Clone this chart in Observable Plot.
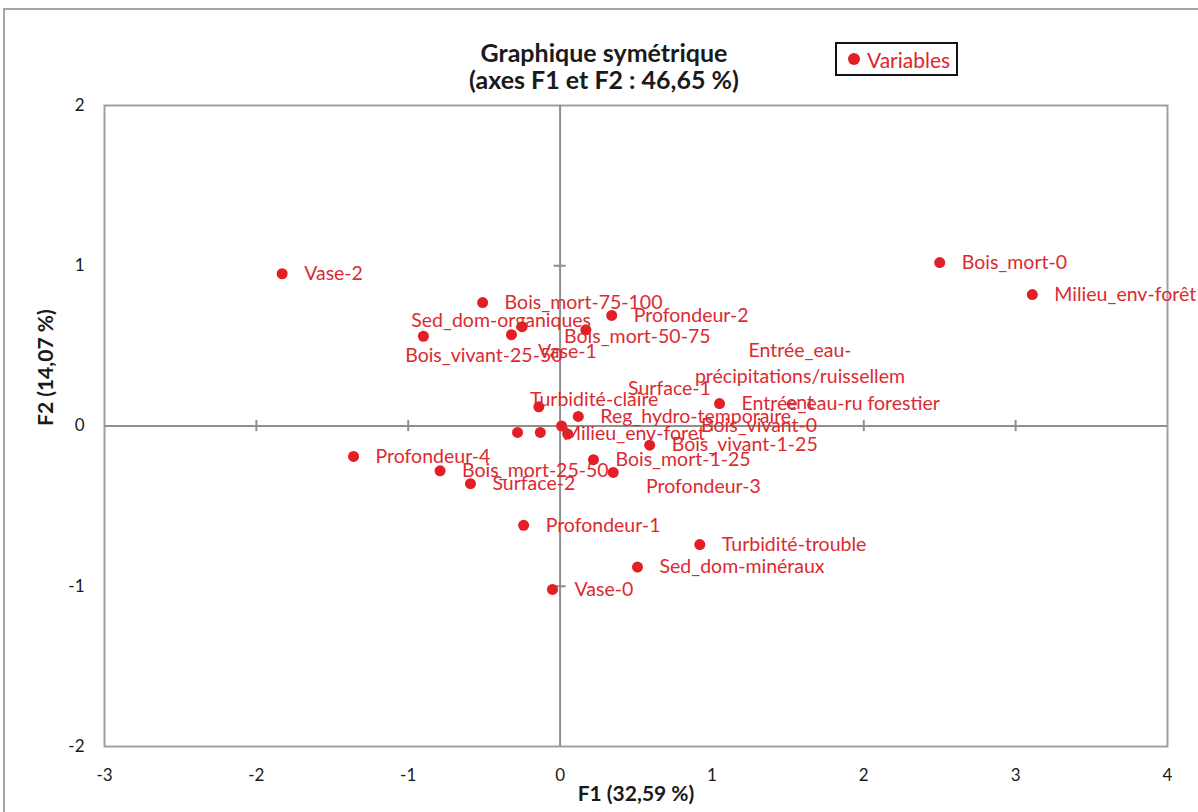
<!DOCTYPE html>
<html><head><meta charset="utf-8">
<script src="https://cdn.jsdelivr.net/npm/d3@7"></script>
<script src="https://cdn.jsdelivr.net/npm/@observablehq/plot@0.6"></script>
<style>
html,body{margin:0;padding:0;background:#fff;}
#wrap{position:relative;width:1198px;height:812px;overflow:hidden;font-family:Lato,"Open Sans",sans-serif;}
#frame{position:absolute;left:3px;top:8px;width:1200px;height:820px;border:2px solid #a6a6a6;box-sizing:border-box;}
#title{position:absolute;left:354px;width:500px;top:39px;text-align:center;font-weight:bold;font-size:25px;line-height:27px;color:#1a1a1a;}
#legend{position:absolute;left:835px;top:42px;width:123px;height:34px;border:2px solid #111;box-sizing:border-box;font-size:21px;color:#e0242b;display:flex;align-items:center;white-space:nowrap;}
#legend span.dot{display:inline-block;width:12px;height:12px;border-radius:50%;background:#e31e24;margin:0 7px 0 11px;flex:none;}
#chart{position:absolute;left:0;top:0;}
</style></head>
<body><div id="wrap"><div id="frame"></div><div id="chart"></div>
<div id="title">Graphique symétrique<br>(axes F1 et F2 : 46,65 %)</div>
<div id="legend"><span class="dot"></span>Variables</div></div>
<script>
// Categories (variables)
const names = ["Vase-2","Bois_mort-0","Milieu_env-forêt","Bois_mort-75-100","Profondeur-2","Sed_dom-organiques","Bois_mort-50-75","Bois_vivant-25-50","Vase-1","Turbidité-claire","Reg_hydro-temporaire","Surface-1","Entrée_eau-précipitations/ruissellement","Bois_vivant-0","Milieu_env-foret","Entrée_eau-ru forestier","Bois_vivant-1-25","Bois_mort-1-25","Profondeur-3","Profondeur-4","Bois_mort-25-50","Surface-2","Profondeur-1","Turbidité-trouble","Sed_dom-minéraux","Vase-0"];
// F1 coordinates
const f1 = [-1.83,2.50,3.11,-0.51,0.34,-0.25,0.17,-0.90,-0.32,-0.14,0.12,-0.28,-0.13,0.01,0.05,1.05,0.59,0.22,0.35,-1.36,-0.79,-0.59,-0.24,0.92,0.51,-0.05];
// F2 coordinates
const f2 = [0.95,1.02,0.82,0.77,0.69,0.62,0.60,0.56,0.57,0.12,0.06,-0.04,-0.04,0.00,-0.05,0.14,-0.12,-0.21,-0.29,-0.19,-0.28,-0.36,-0.62,-0.74,-0.88,-1.02];
// Labels that were moved away from their point (label anchor in F1/F2 units)
const movedNames = ["Sed_dom-organiques","Bois_mort-50-75","Bois_vivant-25-50","Vase-1","Turbidité-claire","Surface-1","Milieu_env-foret","Bois_vivant-0","Profondeur-3"];
const movedF1 = [-0.98,0.026,-1.02,-0.145,-0.198,0.448,0.02,0.928,0.566];
const movedF2 = [0.655,0.555,0.437,0.462,0.162,0.231,-0.05,0.0,-0.381];
const wrappedName = "Entrée_eau-précipitations/ruissellement";
const wrappedText = "Entrée_eau-\nprécipitations/ruissellem\nent";
const wrappedF1 = [1.58];
const wrappedF2 = [0.318];
// Tick labels
const xTicks = [-3,-2,-1,0,1,2,3,4];
const yTicks = [-2,-1,0,1,2];

const pts = names.map((n,i)=>({name:n,x:f1[i],y:f2[i]}));
const moved = movedNames.map((n,i)=>({name:n,x:movedF1[i],y:movedF2[i]}));
const defaults = pts.filter(d=>!movedNames.includes(d.name) && d.name!==wrappedName);
const red = "#e31e24", txt = "#dc2a31", gray = "#8f8f8f";
const labelFont = {fontSize:19.5, fontFamily:"Lato, 'Open Sans', sans-serif"};
const fmt = d=>String(d);

const chart = Plot.plot({
  width:1198, height:812,
  marginLeft:104, marginRight:31, marginTop:105, marginBottom:66,
  style:{fontFamily:"Lato, 'Open Sans', sans-serif", fontSize:"17px", color:"#1a1a1a", background:"transparent"},
  x:{domain:[-3,4], label:null},
  y:{domain:[-2,2], label:null},
  marks:[
    Plot.frame({stroke:"#a0a0a0", strokeWidth:2}),
    Plot.ruleX([0],{stroke:gray, strokeWidth:2}),
    Plot.ruleY([0],{stroke:gray, strokeWidth:2}),
    Plot.ruleX(xTicks.filter(t=>t>-3&&t<4&&t!==0),{x:d=>d, y1:-0.035, y2:0.035, stroke:gray, strokeWidth:2}),
    Plot.ruleY(yTicks.filter(t=>t>-2&&t<2&&t!==0),{y:d=>d, x1:-0.04, x2:0.04, stroke:gray, strokeWidth:2}),
    Plot.dot(pts,{x:"x", y:"y", r:5.5, fill:red, stroke:null}),
    Plot.text(defaults,{x:"x", y:"y", text:"name", dx:22, textAnchor:"start", fill:txt, ...labelFont}),
    Plot.text(moved,{x:"x", y:"y", text:"name", textAnchor:"start", fill:txt, ...labelFont}),
    Plot.text([wrappedText],{x:()=>wrappedF1[0], y:()=>wrappedF2[0], text:d=>d, textAnchor:"middle", lineHeight:1.33, fill:txt, ...labelFont}),
    Plot.axisX({ticks:xTicks, tickFormat:fmt, tickSize:0, tickPadding:22, fontSize:17, label:null}),
    Plot.axisY({ticks:yTicks, tickFormat:fmt, tickSize:0, tickPadding:20, fontSize:17, label:null}),
    Plot.text(["F1 (32,59 %)"],{frameAnchor:"bottom", dy:54, text:d=>d, fontWeight:"bold", fontSize:21, fill:"#1a1a1a"}),
    Plot.text(["F2 (14,07 %)"],{frameAnchor:"left", dx:-58, rotate:-90, text:d=>d, fontWeight:"bold", fontSize:21, fill:"#1a1a1a"})
  ]
});
document.getElementById("chart").appendChild(chart);
</script></body></html>
